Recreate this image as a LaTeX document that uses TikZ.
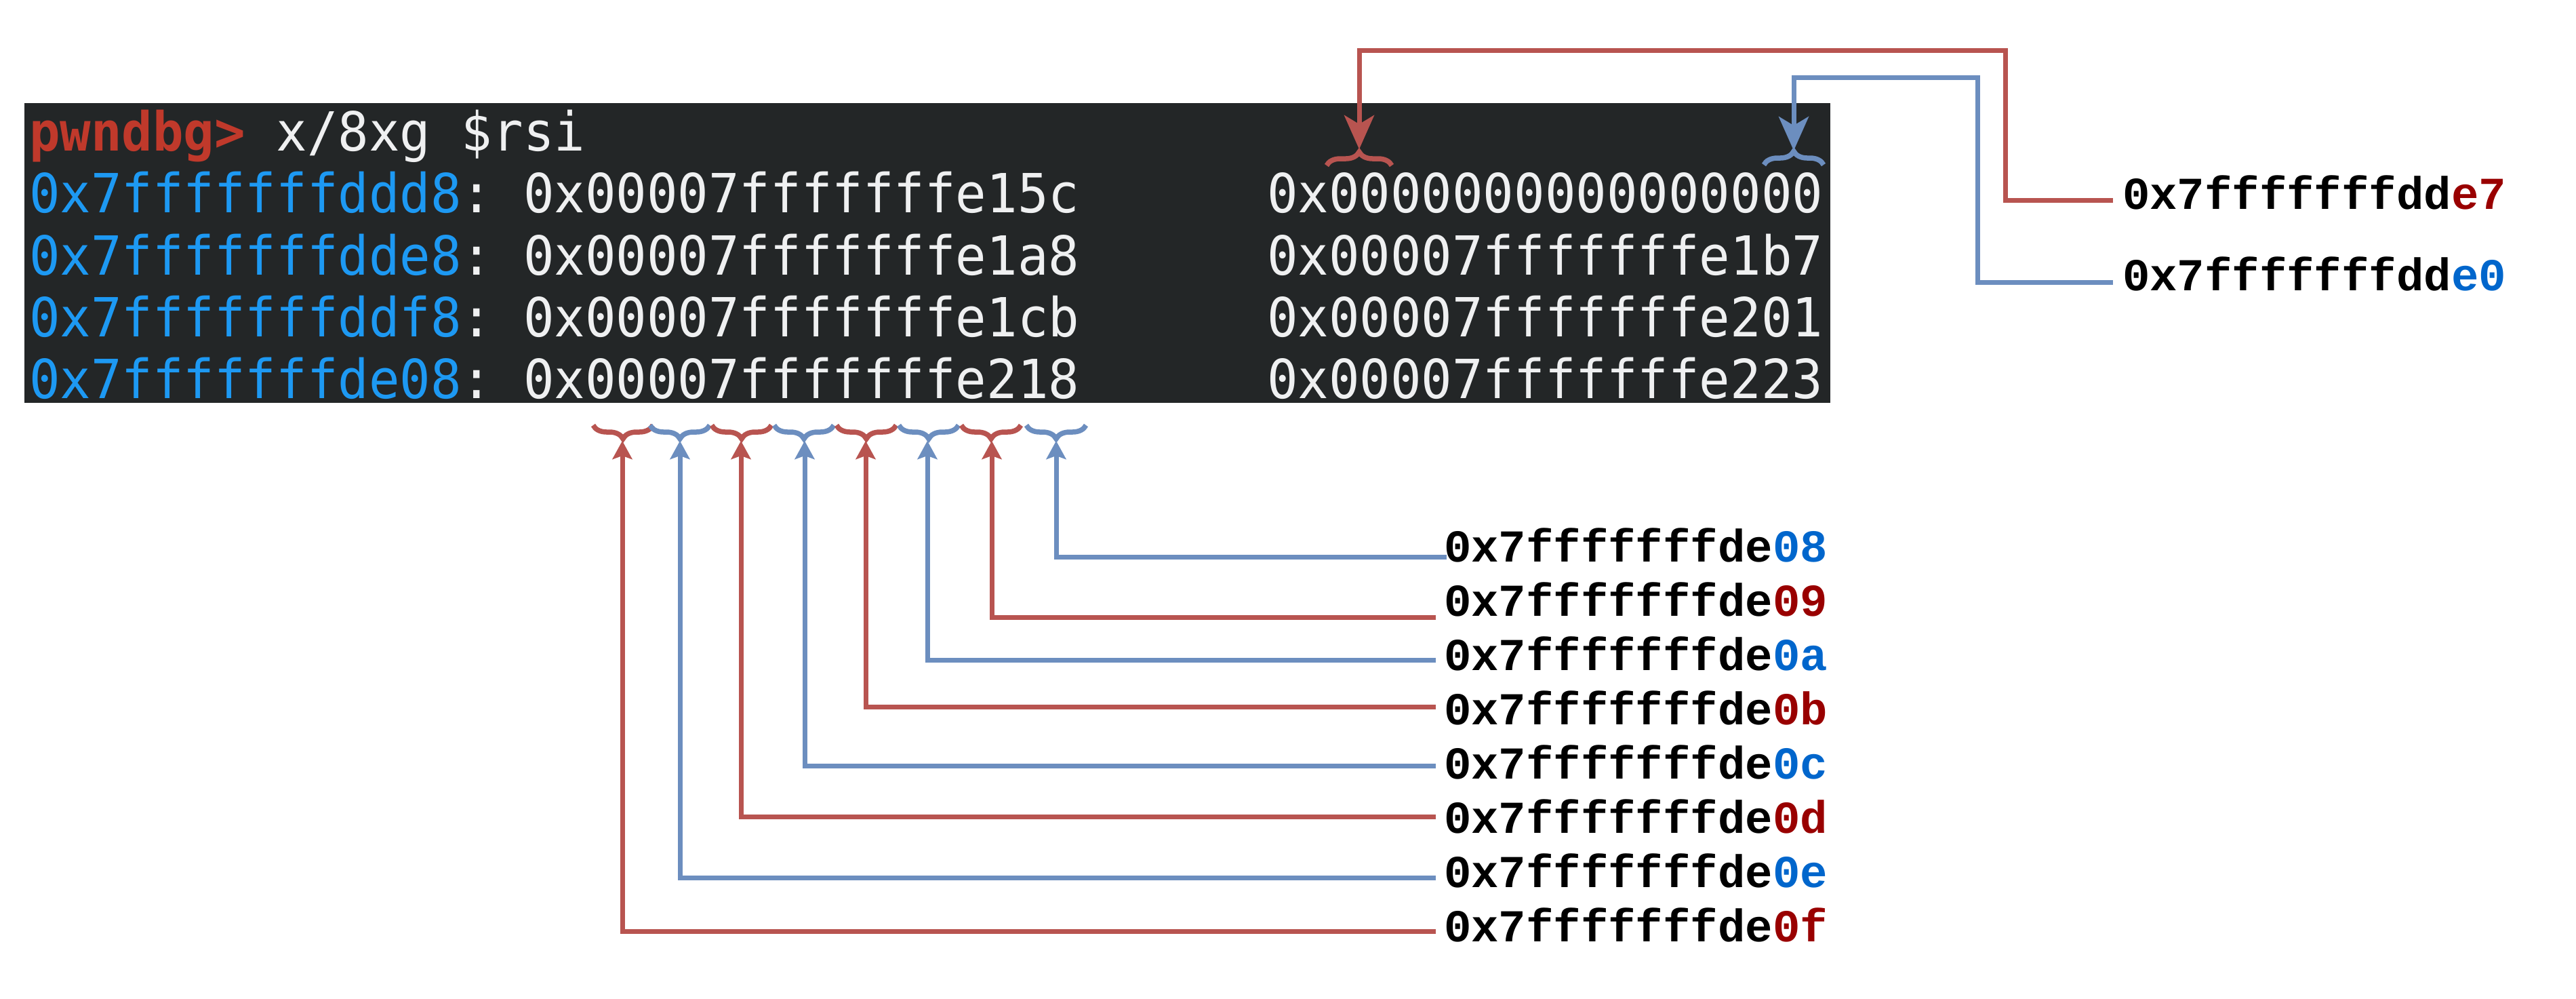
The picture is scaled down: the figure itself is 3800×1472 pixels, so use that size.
\documentclass[tikz,border=0pt]{standalone}
\usepackage{fontspec}
\usetikzlibrary{arrows.meta,decorations.pathreplacing}
\newfontfamily\termfont[FakeStretch=0.952]{DejaVu Sans Mono}
\newfontfamily\labfont{Liberation Mono}
\definecolor{termbg}{HTML}{232627}
\definecolor{promptred}{HTML}{C0392B}
\definecolor{addrblue}{HTML}{1D99F3}
\definecolor{termfg}{HTML}{EFF0F1}
\definecolor{linered}{HTML}{B85450}
\definecolor{lineblue}{HTML}{6C8EBF}
\definecolor{hlred}{HTML}{990000}
\definecolor{hlblue}{HTML}{0066CC}
\begin{document}
\begin{tikzpicture}[x=0.2pt,y=-0.2pt,
  term/.style={anchor=base west,inner sep=0pt,outer sep=0pt,text=termfg,
    font=\termfont\fontsize{15.9pt}{18pt}\selectfont},
  lab/.style={anchor=base west,inner sep=0pt,outer sep=0pt,text=black,
    font=\labfont\bfseries\fontsize{13.47pt}{16pt}\selectfont},
  conn/.style={line width=1.4pt},
  redc/.style={conn,draw=linered},
  bluec/.style={conn,draw=lineblue},
  bigtip/.style={-{Stealth[length=10pt,width=8.8pt,inset=2.6pt]}},
  smalltip/.style={-{Stealth[length=5.4pt,width=5.8pt,inset=1pt]}},
  bracestyle/.style={decorate,decoration={brace,amplitude=4pt},line width=1.5pt},
  redbrace/.style={bracestyle,draw=linered},
  bluebrace/.style={bracestyle,draw=lineblue}]
\useasboundingbox (0,0) rectangle (3800,1472);
% terminal
\fill[termbg] (36,152) rectangle (2700,594);
\node[term] (prompt) at (43,222) {\textcolor{promptred}{\bfseries pwndbg>} x/8xg \$rsi};
\node[term] (a1) at (43,313) {\textcolor{addrblue}{0x7fffffffddd8}:};
\node[term] (v11) at (772,313) {0x00007fffffffe15c};
\node[term] (v12) at (1869,313) {0x0000000000000000};
\node[term] (a2) at (43,405) {\textcolor{addrblue}{0x7fffffffdde8}:};
\node[term] (v21) at (772,405) {0x00007fffffffe1a8};
\node[term] (v22) at (1869,405) {0x00007fffffffe1b7};
\node[term] (a3) at (43,496) {\textcolor{addrblue}{0x7fffffffddf8}:};
\node[term] (v31) at (772,496) {0x00007fffffffe1cb};
\node[term] (v32) at (1869,496) {0x00007fffffffe201};
\node[term] (a4) at (43,587) {\textcolor{addrblue}{0x7fffffffde08}:};
\node[term] (v41) at (772,587) {0x00007fffffffe218};
\node[term] (v42) at (1869,587) {0x00007fffffffe223};
% top braces
\draw[redbrace] (1957,244) -- (2053,244);
\draw[bluebrace] (2602,243) -- (2690,243);
\coordinate (t1) at (2005,220);
\coordinate (t2) at (2646,222);
% top labels
\node[lab] (le7) at (3131,308) {0x7fffffffdd\textcolor{hlred}{e7}};
\node[lab] (le0) at (3131,428) {0x7fffffffdd\textcolor{hlblue}{e0}};
\coordinate (se7) at (3117,295);
\coordinate (se0) at (3117,416);
\coordinate (ce7) at (2958,74);
\coordinate (ce0) at (2917,114);
\draw[redc,bigtip] (se7) -| (ce7) -| (t1);
\draw[bluec,bigtip] (se0) -| (ce0) -| (t2);
% bottom braces
\foreach \x/\c/\n in {919/red/1,1003/blue/2,1094/red/3,1186/blue/4,1278/red/5,1370/blue/6,1462/red/7,1558/blue/8}{
  \draw[\c brace] (\x+44,627) -- (\x-44,627);
}
\coordinate (b1) at (918,650);
\coordinate (b2) at (1003,650);
\coordinate (b3) at (1093,650);
\coordinate (b4) at (1187,650);
\coordinate (b5) at (1277,650);
\coordinate (b6) at (1368,650);
\coordinate (b7) at (1463,650);
\coordinate (b8) at (1558,650);
% bottom labels
\node[lab] (l08) at (2130,828) {0x7fffffffde\textcolor{hlblue}{08}};
\node[lab] (l09) at (2130,908) {0x7fffffffde\textcolor{hlred}{09}};
\node[lab] (l0a) at (2130,988) {0x7fffffffde\textcolor{hlblue}{0a}};
\node[lab] (l0b) at (2130,1068) {0x7fffffffde\textcolor{hlred}{0b}};
\node[lab] (l0c) at (2130,1148) {0x7fffffffde\textcolor{hlblue}{0c}};
\node[lab] (l0d) at (2130,1228) {0x7fffffffde\textcolor{hlred}{0d}};
\node[lab] (l0e) at (2130,1308) {0x7fffffffde\textcolor{hlblue}{0e}};
\node[lab] (l0f) at (2130,1388) {0x7fffffffde\textcolor{hlred}{0f}};
\coordinate (s08) at (2134,821);
\coordinate (s09) at (2118,910);
\coordinate (s0a) at (2118,973);
\coordinate (s0b) at (2118,1042);
\coordinate (s0c) at (2118,1129);
\coordinate (s0d) at (2118,1204);
\coordinate (s0e) at (2118,1294);
\coordinate (s0f) at (2118,1373);
\draw[bluec,smalltip] (s08) -| (b8);
\draw[redc,smalltip] (s09) -| (b7);
\draw[bluec,smalltip] (s0a) -| (b6);
\draw[redc,smalltip] (s0b) -| (b5);
\draw[bluec,smalltip] (s0c) -| (b4);
\draw[redc,smalltip] (s0d) -| (b3);
\draw[bluec,smalltip] (s0e) -| (b2);
\draw[redc,smalltip] (s0f) -| (b1);
\end{tikzpicture}
\end{document}
